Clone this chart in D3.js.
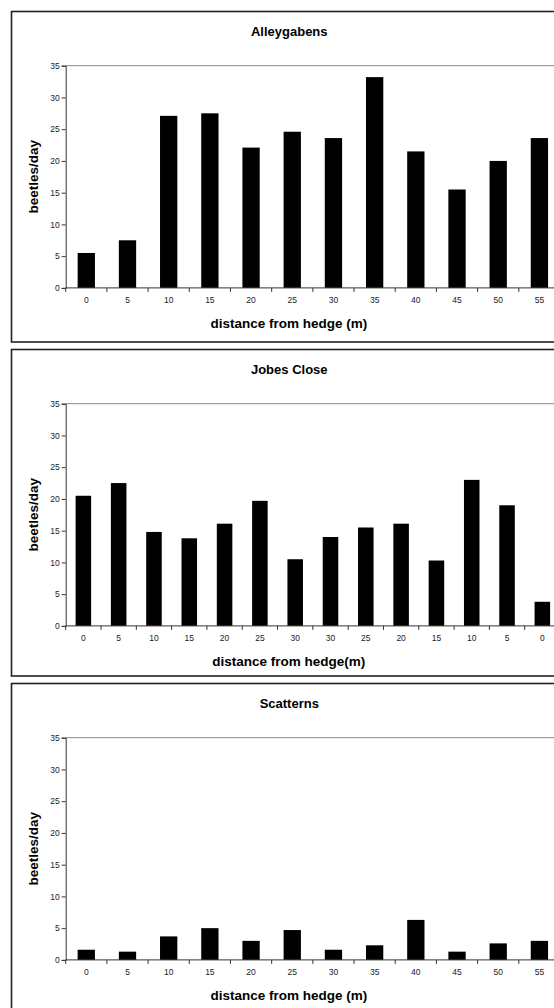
<!DOCTYPE html>
<html>
<head>
<meta charset="utf-8">
<script src="https://cdn.jsdelivr.net/npm/d3@7"></script>
<style>
  body { margin: 0; background: #fff; }
  svg { display: block; font-family: "Liberation Sans", Arial, sans-serif; }
</style>
</head>
<body>
<svg width="554" height="1008"></svg>
<script>
// beetle counts per day along transects, three farms
let alleyCats = ["0","5","10","15","20","25","30","35","40","45","50","55"];
let alleyVals = [5.5, 7.5, 27.1, 27.5, 22.1, 24.6, 23.6, 33.2, 21.5, 15.5, 20.0, 23.6];

let jobesCats = ["0","5","10","15","20","25","30","30","25","20","15","10","5","0"];
let jobesVals = [20.5, 22.5, 14.8, 13.8, 16.1, 19.7, 10.5, 14.0, 15.5, 16.1, 10.3, 23.0, 19.0, 3.8];

let scatCats = ["0","5","10","15","20","25","30","35","40","45","50","55"];
let scatVals = [1.6, 1.3, 3.7, 5.0, 3.0, 4.7, 1.6, 2.3, 6.3, 1.3, 2.6, 3.0];

let yTicks = [0, 5, 10, 15, 20, 25, 30, 35];

let panels = [
  {title: "Alleygabens", xTitle: "distance from hedge (m)", cats: alleyCats, vals: alleyVals, top: 11.5, h: 330.5, pad: 0.58},
  {title: "Jobes Close", xTitle: "distance from hedge(m)", cats: jobesCats, vals: jobesVals, top: 349.5, h: 326.5, pad: 0.56},
  {title: "Scatterns", xTitle: "distance from hedge (m)", cats: scatCats, vals: scatVals, top: 683.5, h: 330, pad: 0.58}
];

let svg = d3.select("svg");
let frameLeft = 11.5, frameRight = 567;
let plotLeft = 65.7, plotRight = 560;

panels.forEach(function(p){
  let g = svg.append("g").attr("transform", "translate(0," + p.top + ")");

  g.append("rect")
    .attr("x", frameLeft).attr("y", 0)
    .attr("width", frameRight - frameLeft).attr("height", p.h)
    .attr("fill", "#fff").attr("stroke", "#222").attr("stroke-width", 1.6);

  let plotTop = 54.2, plotBottom = 276.4;

  let x = d3.scaleBand()
    .domain(d3.range(p.cats.length))
    .range([plotLeft, plotRight])
    .paddingInner(p.pad).paddingOuter(p.pad / 2);

  let y = d3.scaleLinear().domain([0, 35]).range([plotBottom, plotTop]);

  // plot area top border
  g.append("line")
    .attr("x1", plotLeft).attr("x2", plotRight)
    .attr("y1", y(35)).attr("y2", y(35))
    .attr("stroke", "#8a8a8a").attr("stroke-width", 1);

  g.selectAll("rect.bar")
    .data(p.vals)
    .enter()
    .append("rect")
    .attr("class", "bar")
    .attr("x", function(d,i){ return x(i); })
    .attr("y", function(d){ return y(d); })
    .attr("width", x.bandwidth())
    .attr("height", function(d){ return y(0) - y(d); })
    .attr("fill", "#000");

  // y axis
  let yAxis = g.append("g")
    .attr("transform", "translate(" + plotLeft + ",0)")
    .call(d3.axisLeft(y).tickValues(yTicks).tickSize(4).tickPadding(2));
  yAxis.select(".domain").attr("stroke", "#333");
  yAxis.selectAll("line").attr("stroke", "#333");
  yAxis.selectAll("text").attr("font-size", 8.5).attr("fill", "#222")
    .attr("font-family", "Liberation Sans, Arial, sans-serif");

  // x axis: labels at band centres, tick marks between bands (Excel style)
  let step = x.step();
  let xAxis = g.append("g")
    .attr("transform", "translate(0," + plotBottom + ")")
    .call(d3.axisBottom(x).tickSize(0).tickPadding(9)
      .tickFormat(function(i){ return p.cats[i]; }));
  xAxis.select(".domain").remove();
  xAxis.selectAll("text").attr("font-size", 8.5).attr("fill", "#222")
    .attr("font-family", "Liberation Sans, Arial, sans-serif");

  g.append("line")
    .attr("x1", plotLeft).attr("x2", plotRight)
    .attr("y1", plotBottom).attr("y2", plotBottom)
    .attr("stroke", "#333");

  g.selectAll("line.xtick")
    .data(d3.range(p.cats.length + 1))
    .enter()
    .append("line")
    .attr("class", "xtick")
    .attr("x1", function(i){ return plotLeft + i * step; })
    .attr("x2", function(i){ return plotLeft + i * step; })
    .attr("y1", plotBottom).attr("y2", plotBottom + 4)
    .attr("stroke", "#333");

  // titles
  g.append("text")
    .attr("x", (frameLeft + frameRight) / 2).attr("y", 24.5)
    .attr("text-anchor", "middle")
    .attr("font-size", 13).attr("font-weight", "bold")
    .text(p.title);

  g.append("text")
    .attr("x", (plotLeft + plotRight) / 2 - 24).attr("y", 316)
    .attr("text-anchor", "middle")
    .attr("font-size", 13.5).attr("font-weight", "bold")
    .text(p.xTitle);

  g.append("text")
    .attr("transform", "translate(38," + y(17.5) + ") rotate(-90)")
    .attr("text-anchor", "middle")
    .attr("font-size", 13.5).attr("font-weight", "bold")
    .text("beetles/day");
});
</script>
</body>
</html>
